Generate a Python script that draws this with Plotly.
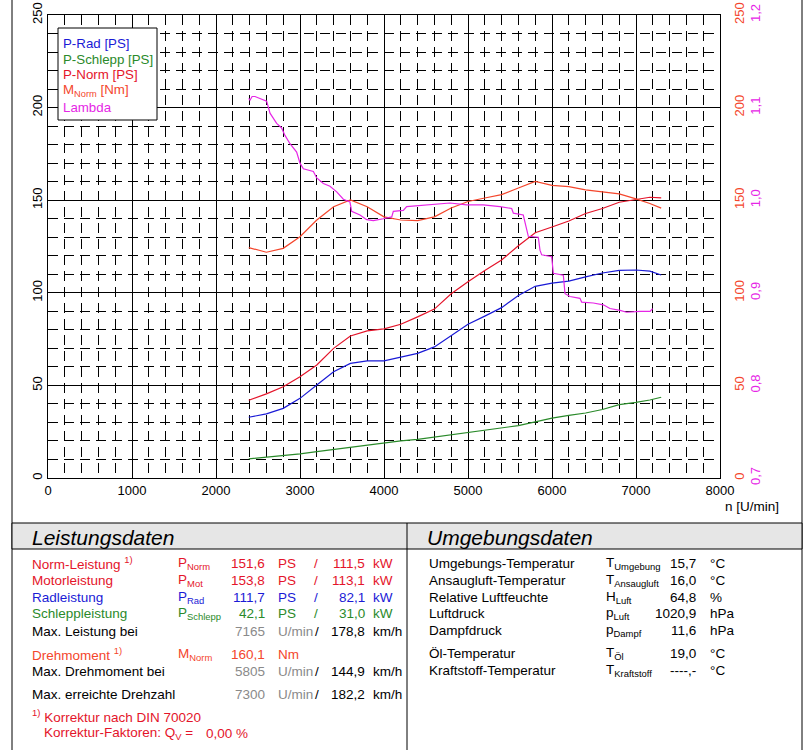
import plotly.graph_objects as go

W, H = 807, 750
FONT = "Liberation Sans, Arial, sans-serif"

# --- curve data ---
rpm = [2390, 2600, 2800, 3000, 3200, 3400, 3600, 3800, 4000, 4200, 4400, 4600, 4800,
       5000, 5200, 5400, 5600, 5800, 6000, 6200, 6400, 6600, 6800, 7000, 7165, 7300]
p_norm = [42.0, 45.4, 49.3, 54.7, 61.0, 70.0, 76.7, 79.4, 80.5, 83.0, 87.0, 91.2, 99.5,
          106.0, 112.0, 117.7, 125.4, 132.4, 135.5, 138.8, 142.8, 145.5, 148.9, 150.6, 151.6, 151.3]
m_norm = [124.4, 121.9, 124.0, 130.3, 139.3, 146.5, 150.1, 146.5, 141.0, 139.3, 139.0, 141.0, 145.8,
          149.3, 151.2, 153.0, 156.6, 160.1, 158.0, 157.3, 155.6, 154.6, 153.4, 150.7, 148.2, 145.7]
p_rad = [32.8, 34.6, 37.6, 43.0, 50.2, 57.4, 61.9, 63.2, 63.2, 65.2, 67.3, 70.8, 77.0,
         83.0, 87.4, 92.0, 98.5, 103.5, 105.2, 106.3, 108.6, 110.7, 112.1, 112.3, 111.7, 109.6]
p_schlepp = [10.3, 11.1, 11.9, 13.0, 14.2, 15.4, 16.6, 17.9, 19.1, 20.0, 20.9, 22.1, 23.2,
             24.3, 25.5, 26.9, 28.3, 30.3, 32.3, 33.8, 35.1, 37.0, 39.6, 40.8, 42.1, 43.6]

lambda_rpm = [2390, 2405, 2430, 2464, 2603, 2643, 2722, 2781, 2821, 2881, 2960, 3000, 3040,
              3159, 3199, 3278, 3357, 3437, 3516, 3595, 3615, 3714, 3794, 3873, 3992, 4092,
              4111, 4230, 4270, 4587, 4786, 4984, 5183, 5381, 5520, 5540, 5658, 5718, 5837,
              5857, 5877, 5996, 6016, 6135, 6155, 6214, 6333, 6353, 6492, 6611, 6690, 6810,
              6889, 7048, 7167, 7198]
lambda_val = [1.110, 1.108, 1.112, 1.112, 1.107, 1.094, 1.083, 1.078, 1.070, 1.061, 1.052, 1.040, 1.034,
              1.031, 1.024, 1.018, 1.015, 1.009, 1.001, 0.998, 0.988, 0.984, 0.979, 0.978, 0.980, 0.982,
              0.988, 0.989, 0.993, 0.995, 0.997, 0.995, 0.995, 0.993, 0.991, 0.986, 0.984, 0.961, 0.960,
              0.946, 0.941, 0.939, 0.921, 0.919, 0.899, 0.896, 0.894, 0.890, 0.889, 0.887, 0.883, 0.881,
              0.879, 0.880, 0.880, 0.883]

x_ticks = [0, 1000, 2000, 3000, 4000, 5000, 6000, 7000, 8000]
y_ticks = [0, 50, 100, 150, 200, 250]
lambda_ticks = [0.7, 0.8, 0.9, 1.0, 1.1, 1.2]
lambda_ticktext = ["0,7", "0,8", "0,9", "1,0", "1,1", "1,2"]

# --- table data ---
perf_rows = [
    ("Norm-Leistung <sup>1)</sup>", "P<sub>Norm</sub>", "151,6", "PS", "111,5", "kW", "norm"),
    ("Motorleistung", "P<sub>Mot</sub>", "153,8", "PS", "113,1", "kW", "norm"),
    ("Radleistung", "P<sub>Rad</sub>", "111,7", "PS", "82,1", "kW", "rad"),
    ("Schleppleistung", "P<sub>Schlepp</sub>", "42,1", "PS", "31,0", "kW", "schlepp"),
]
speed_rows = [
    ("Max. Leistung bei", "7165", "178,8"),
    ("Max. Drehmoment bei", "5805", "144,9"),
    ("Max. erreichte Drehzahl", "7300", "182,2"),
]
env_labels = ["Umgebungs-Temperatur", "Ansaugluft-Temperatur", "Relative Luftfeuchte",
              "Luftdruck", "Dampfdruck", "Öl-Temperatur", "Kraftstoff-Temperatur"]
env_symbols = ["T<sub>Umgebung</sub>", "T<sub>Ansaugluft</sub>", "H<sub>Luft</sub>",
               "p<sub>Luft</sub>", "p<sub>Dampf</sub>", "T<sub>Öl</sub>", "T<sub>Kraftstoff</sub>"]
env_values = ["15,7", "16,0", "64,8", "1020,9", "11,6", "19,0", "----,-"]
env_units = ["°C", "°C", "%", "hPa", "hPa", "°C", "°C"]

C = {"rad": "#1a1ad6", "schlepp": "#2a8a2a", "norm": "#e4142a",
     "mom": "#f4462c", "lambda": "#e626e6", "grey": "#8a8a8a"}

fig = go.Figure()

fig.add_trace(go.Scatter(x=rpm, y=p_rad, mode="lines", line=dict(color=C["rad"], width=1.2)))
fig.add_trace(go.Scatter(x=rpm, y=p_schlepp, mode="lines", line=dict(color=C["schlepp"], width=1.2)))
fig.add_trace(go.Scatter(x=rpm, y=p_norm, mode="lines", line=dict(color=C["norm"], width=1.2)))
fig.add_trace(go.Scatter(x=rpm, y=m_norm, mode="lines", yaxis="y2",
                         line=dict(color=C["mom"], width=1.2)))
fig.add_trace(go.Scatter(x=lambda_rpm, y=lambda_val, mode="lines", yaxis="y3",
                         line=dict(color=C["lambda"], width=1.2)))

x0, x1 = 48 / W, 720 / W
y0, y1 = 1 - 478 / H, 1 - 15 / H
tickfont = dict(family=FONT, size=13, color="black")

fig.update_layout(
    width=W, height=H, showlegend=False,
    margin=dict(l=0, r=0, t=0, b=0, autoexpand=False),
    paper_bgcolor="white", plot_bgcolor="white",
    font=dict(family=FONT),
    xaxis=dict(domain=[x0, x1], range=[0, 8000], tickvals=x_ticks, ticks="", automargin=False,
               showgrid=True, gridcolor="black", gridwidth=1,
               minor=dict(dtick=200, showgrid=True, gridcolor="black", griddash="10px,6px", gridwidth=1),
               showline=True, linecolor="black", linewidth=1, mirror=True,
               zeroline=False, tickfont=tickfont),
    yaxis=dict(domain=[y0, y1], range=[0, 250], tickvals=y_ticks, ticks="", tickangle=-90,
               automargin=False, showgrid=True, gridcolor="black", gridwidth=1,
               minor=dict(dtick=10, showgrid=True, gridcolor="black", griddash="10px,6px", gridwidth=1),
               showline=True, linecolor="black", linewidth=1, mirror=True,
               zeroline=False, tickfont=tickfont),
    yaxis2=dict(overlaying="y", side="right", anchor="x", range=[0, 250], tickvals=y_ticks,
                ticks="", tickangle=-90, showgrid=False, zeroline=False, showline=False,
                automargin=False, ticklabelstandoff=10,
                tickfont=dict(family=FONT, size=13, color=C["mom"])),
    yaxis3=dict(overlaying="y", side="right", anchor="free", position=x1,
                range=[0.7, 1.2], tickvals=lambda_ticks, ticktext=lambda_ticktext,
                ticks="", tickangle=-90, showgrid=False, zeroline=False, showline=False,
                automargin=False, ticklabelstandoff=26,
                tickfont=dict(family=FONT, size=13, color=C["lambda"])),
)


def px(x):
    return x / W


def py(y):
    return 1 - y / H


def line(xa, ya, xb, yb):
    fig.add_shape(type="line", xref="paper", yref="paper", x0=px(xa), y0=py(ya),
                  x1=px(xb), y1=py(yb), line=dict(color="black", width=1))


def ann(x, y, text, color="black", size=13.5, anchor="left"):
    fig.add_annotation(x=px(x), y=py(y), xref="paper", yref="paper", text=text,
                       showarrow=False, xanchor=anchor, yanchor="middle",
                       font=dict(family=FONT, size=size, color=color))


# frame and table boxes
line(12, 0, 12, 750)
line(802, 0, 802, 750)
fig.add_shape(type="rect", xref="paper", yref="paper", x0=px(12), y0=py(549), x1=px(802), y1=py(523),
              fillcolor="#e6e6e6", line=dict(color="black", width=1))
line(407, 523, 407, 750)

# legend box
fig.add_shape(type="rect", xref="paper", yref="paper", x0=px(58), y0=py(120), x1=px(157), y1=py(28),
              fillcolor="white", line=dict(color="black", width=1), layer="above")
legend_items = [("P-Rad [PS]", C["rad"]), ("P-Schlepp [PS]", C["schlepp"]),
                ("P-Norm [PS]", C["norm"]), ("M<sub>Norm</sub> [Nm]", C["mom"]),
                ("Lambda", C["lambda"])]
for i, (txt, col) in enumerate(legend_items):
    ann(61, 43 + i * 16, txt, col, 13.3)

ann(752, 506, "n [U/min]", "black", 13.5, "center")

# headers
ann(30, 537, "<i>Leistungsdaten</i>", "black", 21)
ann(425, 537, "<i>Umgebungsdaten</i>", "black", 21)

# left table
row_y = [563, 580, 597, 613]
for yy, (lab, sym, v1, u1, v2, u2, key) in zip(row_y, perf_rows):
    col = C[key]
    ann(30, yy, lab, col)
    ann(176, yy, sym, col)
    ann(267, yy, v1, col, anchor="right")
    ann(276, yy, u1, col)
    ann(316, yy, "/", col, anchor="center")
    ann(367, yy, v2, col, anchor="right")
    ann(371, yy, u2, col)

ann(30, 654, "Drehmoment <sup>1)</sup>", C["mom"])
ann(176, 654, "M<sub>Norm</sub>", C["mom"])
ann(267, 654, "160,1", C["mom"], anchor="right")
ann(276, 654, "Nm", C["mom"])

for yy, (lab, n, v) in zip([631, 671, 694], speed_rows):
    ann(30, yy, lab)
    ann(267, yy, n, C["grey"], anchor="right")
    ann(276, yy, "U/min", C["grey"])
    ann(313, yy, "/")
    ann(367, yy, v, anchor="right")
    ann(371, yy, "km/h")

ann(30, 716, "<sup>1)</sup> Korrektur nach DIN 70020", C["norm"])
ann(42, 733, "Korrektur-Faktoren: Q<sub>V</sub> =", C["norm"])
ann(204, 733, "0,00 %", C["norm"])

# right table
env_y = [563, 580, 597, 613, 630, 653, 670]
for yy, lab, sym, val, unit in zip(env_y, env_labels, env_symbols, env_values, env_units):
    ann(427, yy, lab)
    ann(604, yy, sym)
    ann(698, yy, val, anchor="right")
    ann(708, yy, unit)

# page body has a default margin; drop it so the figure sits at 0,0
fig.write_html("out.html", config={"displayModeBar": False},
               post_script="document.body.style.margin='0';")
